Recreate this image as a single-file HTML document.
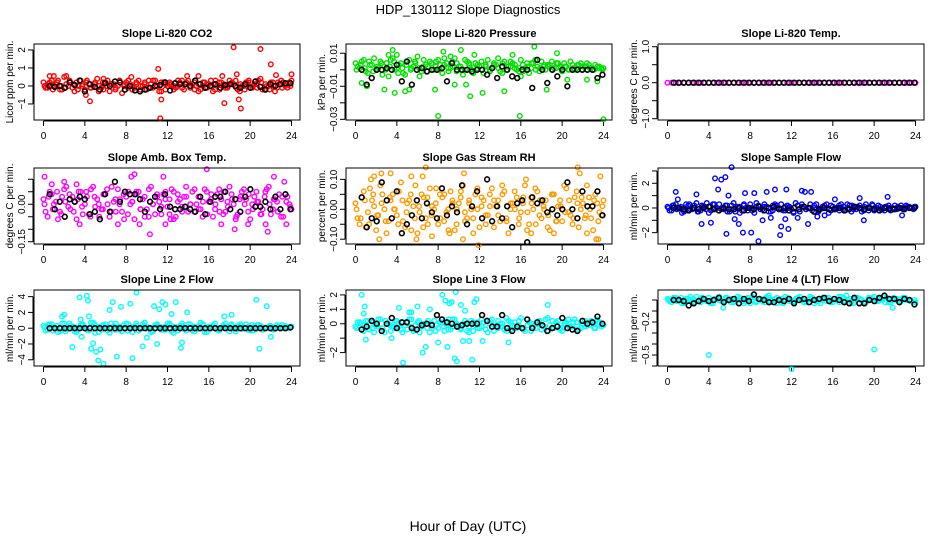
<!DOCTYPE html>
<html><head><meta charset="utf-8"><title>HDP_130112 Slope Diagnostics</title>
<style>
html,body{margin:0;padding:0;background:#fff;}
svg{display:block;font-family:"Liberation Sans",sans-serif;}
</style></head>
<body>
<svg id="chart" width="936" height="540" viewBox="0 0 936 540">
<text x="468" y="14" text-anchor="middle" font-size="13">HDP_130112  Slope Diagnostics</text>
<text x="468" y="531" text-anchor="middle" font-size="14">Hour of Day (UTC)</text>
</svg>
<script>
// ---- data ----
const hourTicks = [0,4,8,12,16,20,24];

const co2A = [0.2,-0.1,0.3,0.1,-0.2,0.5,0.0,-0.1,0.2,0.3,-0.2,0.1,0.0,0.4,-0.1,0.2,-0.3,0.1,0.0,-0.4,0.2,0.1,-0.1,0.3,0.0,-0.2,0.1,0.3,-0.3,0.2,0.0,0.1,-0.1,0.2,-0.2,0.3,0.1,0.0,-0.2,0.2,0.1,-0.3,0.0,0.2,-0.1,0.3,0.1,-0.2,0.0,0.2,-0.1,0.1,0.3,-0.2,0.0,0.2,-0.3,0.1,0.2,-0.1,0.3];
const co2B = [-0.1,0.2,0.0,0.3,-0.2,0.1,0.2,-0.3,0.0,0.1,0.3,-0.1,0.2,0.0,-0.2,0.3,0.1,-0.1,0.2,0.0,0.3,-0.2,0.1,0.0,0.2,-0.1,0.3,0.0,-0.3,0.1,0.2,-0.2,0.0,0.3,0.1,-0.1,0.2,-0.3,0.0,0.1,0.3,-0.2,0.2,0.0,-0.1,0.1,0.3,-0.3,0.0,0.2,-0.1,0.1,0.4,-0.2,0.0,0.2,-0.1,0.3,0.0,0.2];
const co2C = [0.0,0.1,-0.2,0.2,0.0,-0.1,0.3,0.1,-0.2,0.0,0.2,-0.1,0.1,-0.3,0.2,0.0,0.1,-0.2,0.3,0.1,-0.1,0.0,0.2,-0.2,0.1,0.3,-0.1,0.0,0.2,-0.2,0.1,0.0,0.3,-0.1,0.2,0.0,-0.2,0.1,0.2,-0.1,0.0,0.3,-0.2,0.1,0.0,0.2,-0.1,0.1,-0.2,0.3,0.0,-0.1,0.2,0.1,-0.2,0.0,0.2,-0.1,0.1,0.0];
const co2OutH = [0.6,1.0,2.2,4.1,4.5,5.8,8.5,11.1,11.3,11.4,13.9,15.0,17.3,17.5,18.4,18.7,18.9,19.1,21.0,22.0,22.5,24.0];
const co2OutV = [0.55,0.55,0.55,-0.5,-0.85,0.4,0.5,0.95,-1.8,-0.75,0.55,0.55,0.55,-0.95,2.15,0.65,-0.75,-1.25,2.05,1.2,0.6,0.65];
const co2K = [0.0,-0.05,0.0,-0.1,0.2,0.05,0.3,-0.3,0.1,-0.05,-0.2,0.15,0.0,0.25,0.2,-0.2,0.0,-0.25,-0.3,-0.2,-0.1,0.0,0.05,0.2,-0.25,0.15,0.1,0.1,0.0,0.3,0.1,-0.1,0.0,0.1,-0.1,0.05,0.1,0.0,-0.1,0.1,-0.1,0.25,-0.05,-0.2,0.1,0.0,0.1,0.15,0.15];

const presA = [0.004,0.001,0.006,-0.002,0.003,0.000,0.005,0.002,-0.004,0.007,0.001,0.004,-0.003,0.006,0.002,0.008,-0.001,0.003,0.005,0.000,0.006,-0.002,0.004,0.001,0.007,0.002,-0.003,0.005,0.000,0.004,0.002,-0.002,0.006,0.001,0.003,-0.001,0.005,0.002,0.004,0.000,0.006,0.001,-0.002,0.004,0.002,0.005,0.000,0.003,0.001,0.004,-0.001,0.002,0.005,0.000,0.003,0.002,0.004,0.001,0.003,0.002,0.001];
const presB = [0.002,0.005,-0.001,0.003,0.007,0.001,-0.003,0.004,0.006,0.000,0.003,-0.002,0.005,0.001,0.004,-0.004,0.006,0.002,0.000,0.005,0.003,0.007,-0.001,0.002,0.004,0.000,0.006,0.003,-0.002,0.001,0.005,0.003,0.000,0.004,0.007,-0.002,0.002,0.005,0.001,-0.001,0.003,0.004,0.001,0.006,-0.001,0.002,0.003,0.005,0.001,0.002,0.004,0.000,0.003,0.001,0.004,0.002,0.003,0.000,0.002,0.001];
const presC = [0.000,0.003,0.001,0.005,-0.001,0.002,0.004,0.000,0.002,0.005,-0.002,0.001,0.003,0.000,0.005,0.001,0.002,-0.001,0.004,0.002,0.000,0.003,0.001,0.005,-0.001,0.002,0.000,0.004,0.001,0.003,0.000,0.002,-0.001,0.003,0.001,0.004,0.000,0.002,0.003,0.001,-0.001,0.002,0.004,0.000,0.001,0.003,0.002,0.000,0.004,0.001,0.002,0.000,0.001,0.003,0.000,0.002,0.001,0.000,0.001,0.000];
const presOutH = [0.6,1.1,2.8,3.2,3.6,3.8,4.0,4.8,5.2,7.7,8.0,8.5,9.2,9.6,10.2,10.7,11.5,11.1,12.3,14.4,15.2,15.9,16.0,17.3,18.5,19.5,20.5,22.4,23.4,24.0];
const presOutV = [-0.008,-0.010,-0.012,0.009,0.012,-0.014,0.009,-0.013,-0.012,-0.012,-0.028,0.011,0.008,-0.009,0.012,-0.009,0.009,-0.016,-0.014,-0.013,0.009,-0.028,-0.004,0.014,-0.012,0.010,-0.006,-0.006,-0.007,-0.030];
const presK = [0.000,-0.009,-0.005,0.000,0.000,0.001,0.000,0.003,-0.007,0.005,-0.009,0.000,0.001,-0.001,0.000,0.000,0.001,-0.007,0.004,0.000,0.000,0.000,-0.001,0.000,0.000,-0.003,0.001,-0.005,0.002,0.000,-0.004,-0.005,0.000,0.000,-0.011,0.006,0.000,-0.008,0.000,-0.004,0.000,-0.010,0.000,0.000,0.000,0.000,0.000,-0.005,-0.003];

const tempA = [0,0,0,0,0,0,0,0,0,0,0,0,0,0,0,0,0,0,0,0,0,0,0,0,0,0,0,0,0,0,0,0,0,0,0,0,0,0,0,0,0,0,0,0,0,0,0,0,0,0,0,0,0,0,0,0,0,0,0,0,0];
const tempK = [0,0,0,0,0,0,0,0,0,0,0,0,0,0,0,0,0,0,0,0,0,0,0,0,0,0,0,0,0,0,0,0,0,0,0,0,0,0,0,0,0,0,0,0,0,0,0,0,0];

const ambA = [0.02,-0.05,0.04,0.01,-0.03,0.06,-0.01,0.03,-0.06,0.05,0.00,-0.04,0.07,0.02,-0.02,0.04,-0.05,0.01,0.06,-0.03,0.03,0.00,-0.06,0.05,0.02,-0.02,0.07,-0.04,0.01,0.04,-0.01,0.06,-0.05,0.02,0.03,-0.03,0.05,0.00,-0.02,0.06,0.01,-0.05,0.04,0.02,-0.03,0.07,0.00,-0.04,0.05,0.02,-0.06,0.03,0.01,-0.02,0.06,-0.04,0.02,0.04,-0.05,0.03,-0.02];
const ambB = [-0.03,0.05,0.00,-0.06,0.03,0.07,-0.02,0.01,0.05,-0.04,0.03,0.06,-0.01,-0.05,0.04,0.00,0.07,-0.03,0.02,-0.06,0.05,0.01,0.04,-0.02,-0.05,0.06,0.00,0.03,-0.04,0.05,0.02,-0.06,0.04,-0.01,0.07,0.00,-0.03,0.03,-0.05,0.05,0.02,-0.02,0.06,-0.04,0.01,0.04,-0.06,0.02,0.06,-0.03,0.00,0.05,-0.04,0.03,0.07,-0.02,0.01,-0.05,0.04,0.00];
const ambC = [0.00,0.03,-0.02,0.05,-0.04,0.01,0.04,-0.03,0.02,-0.01,0.05,-0.05,0.03,0.00,-0.02,0.06,-0.03,0.02,0.00,0.04,-0.04,0.01,0.05,-0.02,0.03,-0.05,0.00,0.04,-0.01,0.02,-0.04,0.05,0.01,-0.03,0.03,0.00,0.06,-0.02,0.01,-0.04,0.04,0.00,-0.03,0.05,-0.01,0.02,-0.05,0.03,0.00,0.04,-0.02,0.01,-0.04,0.05,0.00,0.02,-0.03,0.03,0.01,-0.01];
const ambOutH = [0.1,0.8,2.0,3.5,3.2,7.2,8.5,8.8,9.3,10.3,11.6,11.8,12.3,15.8,17.2,18.5,19.8,21.5,21.7,22.3,23.3,23.5];
const ambOutV = [0.11,0.08,0.09,-0.08,0.08,-0.08,0.11,0.12,-0.08,-0.12,0.11,-0.08,-0.06,0.14,-0.08,-0.10,-0.08,-0.08,-0.11,0.11,0.09,-0.08];
const ambK = [0.04,-0.02,0.01,-0.05,0.02,0.01,0.03,0.02,-0.04,-0.03,-0.06,0.04,-0.03,0.09,0.01,0.05,0.04,0.04,0.02,-0.03,0.01,0.03,-0.02,0.04,-0.01,-0.02,-0.02,-0.01,-0.02,-0.03,0.03,-0.04,0.01,0.03,0.03,0.05,-0.02,0.02,-0.03,0.03,0.06,-0.01,-0.01,0.01,-0.02,0.03,-0.02,0.04,-0.02];

const rhA = [0.02,-0.05,0.06,-0.01,0.03,-0.07,0.08,0.00,-0.04,0.05,-0.02,0.09,-0.06,0.03,0.01,-0.08,0.05,-0.03,0.07,0.00,-0.05,0.04,-0.01,0.06,-0.07,0.02,0.08,-0.03,0.00,0.05,-0.06,0.03,-0.02,0.07,0.01,-0.04,0.06,-0.08,0.02,0.04,-0.01,0.08,-0.05,0.00,0.06,-0.03,0.03,-0.07,0.05,0.01,-0.04,0.07,-0.02,0.04,-0.06,0.02,0.08,-0.03,0.05,-0.01,0.03];
const rhB = [-0.03,0.04,-0.06,0.07,0.01,-0.02,0.05,-0.08,0.03,0.00,0.06,-0.04,0.02,-0.07,0.08,-0.01,0.04,-0.05,0.01,0.07,-0.03,0.05,-0.07,0.02,0.00,0.06,-0.04,0.03,-0.08,0.07,0.01,-0.02,0.05,-0.06,0.03,0.08,-0.03,0.00,0.06,-0.05,0.02,-0.07,0.04,0.07,-0.02,0.01,-0.06,0.05,-0.04,0.03,0.08,-0.01,-0.05,0.06,0.00,-0.03,0.04,-0.07,0.02,-0.02];
const rhC = [0.00,-0.03,0.03,-0.05,0.05,-0.02,0.02,-0.04,0.04,0.00,-0.05,0.03,-0.01,0.05,-0.03,0.01,-0.06,0.04,-0.02,0.02,0.05,-0.04,0.00,0.03,-0.05,0.04,-0.01,0.02,-0.03,0.00,0.04,-0.05,0.01,0.03,-0.02,0.05,-0.04,0.02,0.00,-0.03,0.04,-0.01,0.02,-0.05,0.03,0.00,-0.02,0.05,-0.04,0.01,-0.01,0.03,-0.03,0.02,0.04,-0.02,0.00,0.03,-0.04,0.01];
const rhOutH = [1.5,1.8,2.3,2.5,3.4,5.4,5.9,6.5,6.8,7.4,9.1,10.5,10.4,11.9,16.5,17.0,19.2,21.5,21.7,22.4,23.3,23.5,23.7];
const rhOutV = [0.10,0.11,-0.10,0.12,0.12,0.11,-0.10,0.11,0.14,-0.09,-0.08,0.12,-0.10,-0.12,0.10,-0.08,-0.08,0.14,0.12,-0.08,-0.10,-0.10,0.11];
const rhK = [0.04,-0.06,-0.03,-0.04,0.09,0.03,-0.03,0.06,-0.08,-0.05,-0.02,0.03,-0.03,0.02,-0.01,-0.03,0.07,-0.02,0.01,-0.01,0.08,-0.05,0.01,0.06,-0.03,0.10,-0.04,0.01,-0.03,0.01,-0.06,0.02,0.03,-0.11,0.04,0.02,0.03,-0.01,0.00,-0.02,0.00,0.09,0.00,-0.03,0.06,0.01,0.01,0.06,-0.02];

const sfA = [0.1,-0.2,0.3,0.0,-0.3,0.2,-0.1,0.4,-0.2,0.1,-0.4,0.3,0.0,-0.1,0.2,-0.3,0.4,0.1,-0.2,0.0,0.3,-0.4,0.2,-0.1,0.1,-0.3,0.3,0.0,-0.2,0.2,-0.1,0.4,-0.3,0.1,0.0,-0.2,0.3,-0.1,0.2,-0.4,0.1,0.0,0.3,-0.2,0.2,-0.1,0.1,-0.3,0.3,0.0,-0.2,0.2,-0.1,0.1,-0.2,0.2,0.0,-0.1,0.1,0.0,0.1];
const sfB = [-0.2,0.2,0.0,-0.4,0.3,-0.1,0.2,-0.3,0.1,0.4,-0.2,0.0,0.3,-0.1,-0.3,0.2,0.1,-0.4,0.3,0.0,-0.2,0.4,-0.1,0.1,-0.3,0.2,0.0,0.3,-0.2,0.1,-0.4,0.2,0.3,-0.1,0.0,0.2,-0.3,0.1,0.3,-0.2,0.0,0.2,-0.1,0.3,-0.3,0.1,0.2,-0.2,0.0,0.3,-0.1,0.1,-0.2,0.2,0.0,-0.1,0.2,0.0,0.1,-0.1];
const sfC = [0.0,0.2,-0.1,0.1,-0.2,0.3,0.0,-0.3,0.2,-0.1,0.1,0.3,-0.2,0.0,0.2,-0.1,-0.3,0.1,0.2,-0.2,0.0,0.1,-0.1,0.3,0.0,-0.2,0.2,-0.1,0.1,0.0,-0.3,0.2,0.1,-0.1,0.3,0.0,-0.2,0.1,0.0,0.2,-0.1,-0.2,0.1,0.0,0.2,-0.1,0.0,0.1,-0.2,0.2,0.0,-0.1,0.1,0.0,-0.1,0.1,0.0,0.2,0.0,0.1];
const sfOutH = [0.8,1.0,2.8,3.3,4.2,4.6,4.9,5.2,5.6,5.7,5.9,6.2,6.5,6.9,7.3,7.5,8.1,8.4,8.8,9.2,9.6,10.0,10.4,10.9,11.0,11.4,11.5,11.7,12.6,13.0,13.3,13.6,13.9,14.5,15.2,16.2,18.6,19.0,21.3,22.7];
const sfOutV = [1.3,0.7,1.1,-1.3,-1.2,2.4,1.5,2.3,2.5,-2.1,1.0,3.3,-0.9,-1.3,-2.0,1.2,-2.0,1.2,-2.7,-1.0,1.3,-0.8,1.5,-2.2,-1.5,-0.9,1.5,-1.7,-0.8,1.4,1.3,-1.3,1.3,-0.7,-0.6,0.7,0.8,-1.0,0.9,-0.6];
const sfK = [0.0,0.0,-0.1,-0.2,0.0,-0.1,0.0,0.1,-0.1,-0.2,0.0,-0.1,-0.1,0.0,-0.2,0.0,-0.1,0.1,-0.2,0.0,0.1,-0.1,0.0,-0.2,0.0,-0.1,0.1,0.0,-0.3,-0.1,0.0,-0.1,-0.1,0.0,-0.2,-0.1,0.1,0.0,-0.1,0.0,-0.1,-0.2,0.0,-0.1,-0.1,0.0,-0.1,0.0,0.0];

const l2A = [0.3,-0.2,0.5,0.0,-0.4,0.6,-0.1,0.2,-0.5,0.4,0.1,-0.3,0.7,0.0,-0.2,0.5,-0.6,0.3,0.1,-0.4,0.6,-0.1,0.2,-0.3,0.5,0.0,-0.5,0.4,0.2,-0.2,0.6,-0.4,0.1,0.3,-0.1,0.5,-0.3,0.0,0.7,-0.5,0.2,0.4,-0.2,0.1,0.6,-0.4,0.0,0.3,-0.1,0.5,-0.3,0.2,0.4,-0.2,0.1,0.3,-0.1,0.2,0.0,0.1,0.2];
const l2B = [-0.3,0.4,0.1,-0.5,0.6,-0.1,0.3,-0.4,0.0,0.5,-0.2,0.7,-0.6,0.2,0.4,-0.3,0.1,0.6,-0.2,0.0,0.5,-0.5,0.3,-0.1,0.7,0.1,-0.4,0.4,-0.2,0.2,0.6,-0.6,0.0,0.3,-0.3,0.5,0.2,-0.1,0.4,-0.5,0.1,0.6,-0.3,0.2,0.0,0.5,-0.4,0.3,0.1,-0.2,0.4,-0.1,0.3,0.0,0.2,-0.2,0.4,0.1,0.3,0.0];
const l2C = [0.1,0.5,-0.3,0.3,0.0,-0.4,0.6,0.2,-0.2,0.4,-0.1,0.1,0.5,-0.5,0.3,0.0,0.6,-0.2,0.2,0.4,-0.3,0.1,0.6,-0.1,0.3,0.0,-0.4,0.5,0.1,-0.2,0.4,0.2,-0.3,0.6,0.0,0.1,-0.4,0.3,0.5,-0.1,0.2,0.0,-0.2,0.4,0.1,0.3,-0.1,0.5,0.0,0.2,-0.3,0.4,0.1,0.0,0.3,-0.1,0.2,0.4,0.0,0.2];
const l2OutH = [1.8,2.0,2.8,3.5,3.6,3.7,4.2,4.3,4.4,4.6,4.8,5.1,5.3,5.5,5.8,6.4,6.7,7.1,7.5,8.4,8.6,9.0,9.6,10.0,10.7,11.0,11.2,11.5,11.8,12.4,12.8,13.3,13.4,13.9,17.5,18.2,20.6,20.9,21.6,22.0];
const l2OutV = [1.5,1.7,-2.4,3.9,1.1,-1.1,4.1,3.5,1.5,-2.6,-1.9,-3.0,-4.1,-2.7,-4.5,2.3,3.3,-3.6,2.7,3.1,-3.8,4.5,-2.3,-1.2,2.8,-2.0,2.4,3.3,3.0,1.8,3.3,-2.5,-1.8,2.0,1.5,1.7,3.6,-2.6,2.8,-1.1];
const l2K = [0,0,0,0,0,0,0,0,0,0,0,0,0,0,0,0,0,0,0,0,0,0,0,0,0,0,0,0,0,0,0,0,0,0,0,0,0,0,0,0,0,0,0,0,0,0,0,0,0.1];

const l3A = [-0.2,0.1,-0.5,0.2,-0.3,-0.1,0.3,-0.6,0.0,-0.2,0.2,-0.4,-0.1,0.3,-0.5,0.1,-0.2,0.0,-0.6,0.2,-0.3,0.1,-0.1,-0.4,0.3,-0.2,0.0,-0.5,0.2,-0.1,-0.3,0.1,-0.6,0.3,-0.2,0.0,-0.4,0.2,-0.1,-0.3,0.4,-0.5,0.1,-0.2,0.0,-0.4,0.3,-0.1,-0.3,0.2,-0.5,0.1,-0.2,0.3,-0.4,0.0,-0.1,0.2,-0.3,0.1,-0.1];
const l3B = [0.1,-0.4,0.2,-0.1,-0.6,0.3,-0.3,0.0,-0.5,0.2,-0.2,0.1,-0.4,0.3,-0.1,-0.6,0.0,0.2,-0.3,-0.1,0.1,-0.5,0.3,-0.2,0.0,-0.4,0.2,-0.6,0.1,-0.3,0.3,-0.1,0.0,-0.5,0.2,-0.2,0.4,-0.4,0.1,-0.1,-0.3,0.3,-0.5,0.0,0.2,-0.2,0.4,-0.3,0.1,-0.4,0.0,0.3,-0.2,0.1,-0.3,0.2,-0.1,0.0,0.3,-0.2];
const l3C = [-0.3,0.0,-0.1,-0.4,0.1,-0.2,-0.5,0.2,-0.1,-0.3,0.0,-0.6,0.1,-0.2,-0.4,0.2,-0.1,-0.3,0.0,-0.5,0.1,-0.2,-0.4,0.3,-0.1,-0.3,0.0,-0.2,-0.5,0.1,-0.2,-0.4,0.2,-0.1,-0.3,0.0,-0.5,0.1,-0.2,0.2,-0.4,-0.1,0.0,-0.3,0.1,-0.2,-0.5,0.2,-0.1,-0.3,0.0,-0.2,0.1,-0.4,0.0,-0.2,0.1,-0.3,0.0,-0.1];
const l3OutH = [0.6,0.8,0.9,1.0,3.5,4.2,4.6,5.2,5.4,6.0,6.5,6.8,7.2,8.0,8.4,8.7,8.9,9.1,9.3,9.6,9.7,9.8,10.2,10.4,10.6,11.0,11.3,11.5,11.7,12.3,14.8,18.6];
const l3OutV = [2.0,0.7,1.2,-1.1,-1.0,1.1,-2.7,0.8,0.8,1.2,-2.0,-1.6,1.0,-1.3,2.0,1.6,-1.6,1.4,1.5,-2.4,2.2,-2.6,1.3,-1.2,0.9,-1.2,-2.5,1.5,1.7,-1.2,-1.3,1.3];
const l3K = [-0.4,-0.2,0.2,0.0,-0.5,0.0,0.4,-0.3,0.1,0.1,-0.3,-0.4,-0.1,0.0,-0.1,0.6,0.3,0.1,0.0,-0.2,-0.1,0.0,0.0,0.0,0.6,0.2,-0.2,-0.2,0.6,-0.3,-0.5,-0.2,-0.3,0.3,-0.3,0.1,-0.1,-0.5,-0.3,-0.2,0.4,-0.3,-0.4,-0.5,0.2,0.0,0.1,0.5,0.0];

const l4A = [0.01,-0.02,0.02,0.00,-0.03,0.01,-0.01,0.03,-0.02,0.00,0.02,-0.03,0.01,-0.01,0.02,0.00,-0.02,0.03,-0.01,0.01,-0.03,0.02,0.00,-0.01,0.03,-0.02,0.01,0.00,-0.03,0.02,-0.01,0.01,0.03,-0.02,0.00,0.02,-0.01,-0.03,0.01,0.02,-0.02,0.00,0.03,-0.01,0.01,-0.03,0.02,0.00,-0.02,0.01,0.03,-0.01,0.00,0.02,-0.02,0.01,-0.01,0.02,0.00,-0.01,-0.02];
const l4B = [-0.01,0.02,0.00,-0.03,0.01,0.03,-0.02,0.00,0.02,-0.01,-0.03,0.01,0.03,-0.02,0.00,0.01,-0.01,0.02,-0.03,0.00,0.03,-0.01,0.01,-0.02,0.02,0.00,-0.03,0.01,0.03,-0.01,-0.02,0.02,0.00,-0.01,0.03,-0.03,0.01,0.00,0.02,-0.02,0.01,0.03,-0.01,0.00,-0.02,0.02,0.01,-0.03,0.00,0.02,-0.01,0.01,0.03,-0.02,0.00,0.01,-0.01,0.02,0.00,-0.02];
const l4C = [0.00,0.01,-0.01,0.02,-0.02,0.00,0.01,-0.01,0.02,0.00,-0.02,0.01,0.00,-0.01,0.02,-0.02,0.01,0.00,-0.01,0.02,0.00,-0.02,0.01,0.01,-0.01,0.00,0.02,-0.02,0.00,0.01,-0.01,0.02,0.00,-0.02,0.01,0.00,-0.01,0.02,-0.01,0.00,0.01,-0.02,0.02,0.00,-0.01,0.01,0.00,-0.02,0.02,0.00,-0.01,0.01,-0.02,0.00,0.02,-0.01,0.01,0.00,-0.01,0.00];
const l4OutH = [4.0,5.4,9.8,12.0,17.3,20.0,21.8];
const l4OutV = [-0.50,-0.07,0.04,-0.63,0.04,-0.45,-0.07];
const l4K = [0.00,0.00,-0.01,-0.05,-0.03,-0.01,0.01,-0.01,0.00,0.02,-0.02,0.00,0.01,-0.03,0.01,-0.01,0.05,0.01,0.00,-0.02,-0.02,0.00,-0.01,0.01,-0.03,0.00,0.01,-0.02,0.00,0.01,0.02,-0.01,0.01,0.00,-0.02,-0.03,0.02,-0.03,-0.03,0.00,-0.01,0.02,0.04,0.01,0.01,-0.02,0.01,0.00,-0.04];

// ---- layout ----
const colX = [34, 346, 658];
const rowY = [44, 168, 290];
const boxW = 266, boxH = 76;
const NS = 'http://www.w3.org/2000/svg';
const svg = document.getElementById('chart');

function mk(tag, attrs, parent) {
  const e = document.createElementNS(NS, tag);
  for (const k in attrs) e.setAttribute(k, attrs[k]);
  (parent || svg).appendChild(e);
  return e;
}

const panels = [
  {key:'co2', title:'Slope Li-820 CO2', ylab:'Licor ppm per min.', col:0, row:0, ymin:-1.89, ymax:2.33, yt:[-1,0,1,2], yl:['\u22121','0','1','2'], color:'#ff0000', A:co2A, B:co2B, C:co2C, oh:co2OutH, ov:co2OutV, K:co2K},
  {key:'pressure', title:'Slope Li-820 Pressure', ylab:'kPa per min.', col:1, row:0, ymin:-0.0304, ymax:0.0156, yt:[-0.03,-0.02,-0.01,0,0.01], yl:['\u22120.03','','\u22120.01','','0.01'], color:'#00e000', A:presA, B:presB, C:presC, oh:presOutH, ov:presOutV, K:presK},
  {key:'temp', title:'Slope Li-820 Temp.', ylab:'degrees C per min.', col:2, row:0, ymin:-1.036, ymax:1.075, yt:[-1,-0.5,0,0.5,1], yl:['\u22121.0','','0.0','','1.0'], color:'#ff00ff', A:tempA, B:[], C:[], oh:[], ov:[], K:tempK},
  {key:'amb-temp', title:'Slope Amb. Box Temp.', ylab:'degrees C per min.', col:0, row:1, ymin:-0.159, ymax:0.145, yt:[-0.15,-0.1,-0.05,0,0.05,0.1], yl:['\u22120.15','','','0.00','',''], color:'#ff00ff', A:ambA, B:ambB, C:ambC, oh:ambOutH, ov:ambOutV, K:ambK},
  {key:'rh', title:'Slope Gas Stream RH', ylab:'percent per min.', col:1, row:1, ymin:-0.116, ymax:0.138, yt:[-0.1,-0.05,0,0.05,0.1], yl:['\u22120.10','','0.00','','0.10'], color:'#ff9a00', A:rhA, B:rhB, C:rhC, oh:rhOutH, ov:rhOutV, K:rhK},
  {key:'sample-flow', title:'Slope Sample Flow', ylab:'ml/min per min.', col:2, row:1, ymin:-2.92, ymax:3.24, yt:[-2,-1,0,1,2,3], yl:['\u22122','','0','','2',''], color:'#0000ff', A:sfA, B:sfB, C:sfC, oh:sfOutH, ov:sfOutV, K:sfK},
  {key:'line2-flow', title:'Slope Line 2 Flow', ylab:'ml/min per min.', col:0, row:2, ymin:-4.79, ymax:4.84, yt:[-4,-2,0,2,4], yl:['\u22124','\u22122','0','2','4'], color:'#00ffff', A:l2A, B:l2B, C:l2C, oh:l2OutH, ov:l2OutV, K:l2K},
  {key:'line3-flow', title:'Slope Line 3 Flow', ylab:'ml/min per min.', col:1, row:2, ymin:-2.93, ymax:2.34, yt:[-2,-1,0,1,2], yl:['\u22122','','0','1','2'], color:'#00ffff', A:l3A, B:l3B, C:l3C, oh:l3OutH, ov:l3OutV, K:l3K},
  {key:'line4-flow', title:'Slope Line 4 (LT) Flow', ylab:'ml/min per min.', col:2, row:2, ymin:-0.6, ymax:0.091, yt:[-0.6,-0.5,-0.4,-0.3,-0.2,-0.1,0], yl:['','\u22120.5','','','\u22120.2','',''], color:'#00ffff', A:l4A, B:l4B, C:l4C, oh:l4OutH, ov:l4OutV, K:l4K}
];

panels.forEach(p => {
  const L = colX[p.col], T = rowY[p.row];
  const xs = h => L + 9.5 + h / 24 * 248;
  const ys = v => T + boxH - (v - p.ymin) / (p.ymax - p.ymin) * boxH;
  const g = mk('g', {});
  
  

  const t = mk('text', {x: L + boxW / 2, y: T - 7, 'text-anchor': 'middle', 'font-size': 11, 'font-weight': 'bold'}, g);
  t.textContent = p.title;
  
  

  const xa = mk('g', {}, g);
  
  
  mk('line', {x1: xs(0), x2: xs(24), y1: T + boxH + 1, y2: T + boxH + 1, stroke: '#000'}, xa);
  hourTicks.forEach(h => {
    mk('line', {x1: xs(h), x2: xs(h), y1: T + boxH + 1, y2: T + boxH + 6, stroke: '#000'}, xa);
    const tl = mk('text', {x: xs(h), y: T + boxH + 19, 'text-anchor': 'middle', 'font-size': 10}, xa);
    tl.textContent = h;
    
    
  });

  const ya = mk('g', {}, g);
  
  
  mk('line', {x1: L - 1, x2: L - 1, y1: ys(p.yt[0]), y2: ys(p.yt[p.yt.length - 1]), stroke: '#000'}, ya);
  p.yt.forEach((v, i) => {
    mk('line', {x1: L - 6, x2: L - 1, y1: ys(v), y2: ys(v), stroke: '#000'}, ya);
    if (p.yl[i]) {
      const yy = ys(v);
      const tl = mk('text', {x: L - 9, y: yy, 'text-anchor': 'middle', 'font-size': 10, transform: `rotate(-90 ${L - 9} ${yy})`}, ya);
      tl.textContent = p.yl[i];
      
      
    }
  });
  const ylx = L - 21, yly = T + boxH / 2;
  const yt = mk('text', {x: ylx, y: yly, 'text-anchor': 'middle', 'font-size': 10, transform: `rotate(-90 ${ylx} ${yly})`}, g);
  yt.textContent = p.ylab;
  
  

  const pts = mk('g', {fill: 'none', stroke: p.color, 'stroke-width': 1.4}, g);
  
  
  const plot = (arr, h0, h1, parent, r) => arr.forEach((v, i) => {
    const h = arr.length > 1 ? h0 + i * (h1 - h0) / (arr.length - 1) : h0;
    const c = mk('circle', {cx: xs(h), cy: ys(v), r: r}, parent);
    
    
  });
  plot(p.A, 0, 24, pts, 2.3);
  plot(p.B, 0.2, 23.8, pts, 2.3);
  plot(p.C, 0.1, 23.9, pts, 2.3);
  p.oh.forEach((h, i) => {
    const c = mk('circle', {cx: xs(h), cy: ys(p.ov[i]), r: 2.3}, pts);
    
    
  });
  const blk = mk('g', {fill: 'none', stroke: '#000', 'stroke-width': 1.6}, g);
  
  
  plot(p.K, 0.6, 23.9, blk, 2.4);

  const box = mk('rect', {x: L, y: T, width: boxW, height: boxH, fill: 'none', stroke: '#000'}, g);
  
  
});
</script>
</body></html>
